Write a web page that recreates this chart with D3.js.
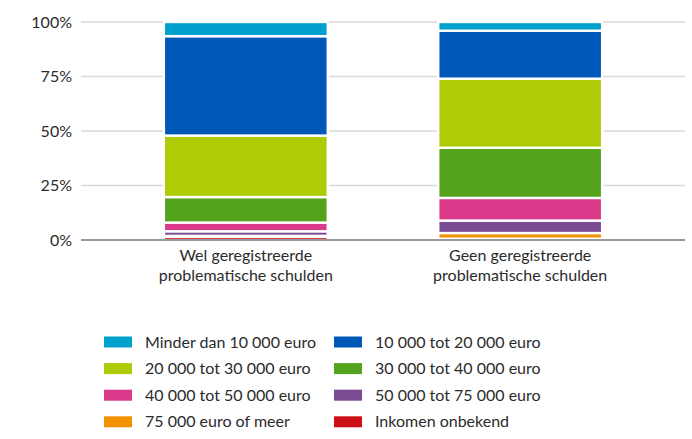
<!DOCTYPE html>
<html>
<head>
<meta charset="utf-8">
<script src="https://cdn.jsdelivr.net/npm/d3@7"></script>
<style>
  html, body { margin: 0; padding: 0; background: #fff; }
  svg { display: block; font-family: Lato, "Open Sans", sans-serif; }
</style>
</head>
<body>
<svg id="chart" width="692" height="439"></svg>
<script>
// Income groups, listed top of stack first (legend order)
const groups = [
  "Minder dan 10 000 euro",
  "10 000 tot 20 000 euro",
  "20 000 tot 30 000 euro",
  "30 000 tot 40 000 euro",
  "40 000 tot 50 000 euro",
  "50 000 tot 75 000 euro",
  "75 000 euro of meer",
  "Inkomen onbekend"
];
const colors = ["#00a1cd", "#0058b8", "#afcb05", "#53a31d", "#db3a8b", "#7d4b93", "#f39200", "#cc1018"];

// Two population groups on the x axis
const categories = [
  ["Wel geregistreerde", "problematische schulden"],
  ["Geen geregistreerde", "problematische schulden"]
];

// Share (%) per income group, same order as `groups`
const welValues  = [6.5, 45.6, 28.2, 11.7, 4.0, 2.1, 0.4, 1.5];
const geenValues = [4.0, 22.0, 31.7, 23.0, 10.4, 5.7, 2.6, 0.6];

const tickValues = [0, 25, 50, 75, 100];

const seriesByCat = [welValues, geenValues];
const catKeys = categories.map(c => c.join(" "));

const svg = d3.select("#chart");
const textColor = "#2b2b2b";
const fontSize = 16;

const x = d3.scaleBand()
  .domain(catKeys)
  .range([81, 685])
  .paddingInner(0.4026)
  .paddingOuter(0.302);

const y = d3.scaleLinear().domain([0, 100]).range([240, 22]);

// Gridlines
svg.append("g")
  .selectAll("line")
  .data(tickValues.filter(d => d > 0))
  .join("line")
  .attr("x1", 81).attr("x2", 685)
  .attr("y1", d => y(d)).attr("y2", d => y(d))
  .attr("stroke", "#d9d9d9")
  .attr("stroke-width", 1.5);

// Y axis labels
const yAxis = d3.axisLeft(y)
  .tickValues(tickValues)
  .tickFormat(d => d + "%")
  .tickSize(0)
  .tickPadding(0);
const yg = svg.append("g").attr("transform", "translate(72,0)").call(yAxis);
yg.select(".domain").remove();
yg.selectAll("text")
  .attr("font-size", fontSize)
  .attr("fill", textColor)
  .attr("font-family", "Lato, sans-serif");

// Stacked bars: stack from the bottom (last group) upward
const stackKeys = groups.slice().reverse();
const rows = catKeys.map((k, i) => {
  const r = { cat: k };
  groups.forEach((g, j) => { r[g] = seriesByCat[i][j]; });
  return r;
});
const stacked = d3.stack().keys(stackKeys)(rows);
const colorOf = d3.scaleOrdinal().domain(groups).range(colors);

svg.append("g")
  .selectAll("g")
  .data(stacked)
  .join("g")
  .attr("fill", d => colorOf(d.key))
  .selectAll("rect")
  .data(d => d)
  .join("rect")
  .attr("x", d => x(d.data.cat))
  .attr("width", x.bandwidth())
  .attr("y", d => y(d[1]))
  .attr("height", d => y(d[0]) - y(d[1]))
  .attr("stroke", "#fff")
  .attr("stroke-width", 2.4);

// Baseline
svg.append("line")
  .attr("x1", 81).attr("x2", 685)
  .attr("y1", y(0)).attr("y2", y(0))
  .attr("stroke", "#9a9a9a")
  .attr("stroke-width", 2);

// Category labels (two lines each)
const catLabels = svg.append("g")
  .selectAll("text")
  .data(categories)
  .join("text")
  .attr("x", (d, i) => x(catKeys[i]) + x.bandwidth() / 2)
  .attr("text-anchor", "middle")
  .attr("font-size", fontSize)
  .attr("fill", textColor);
catLabels.selectAll("tspan")
  .data(d => d)
  .join("tspan")
  .attr("x", function () { return d3.select(this.parentNode).attr("x"); })
  .attr("y", (d, i) => 261 + i * 19.5)
  .text(d => d);

// Legend, two columns
const legend = svg.append("g")
  .selectAll("g")
  .data(groups)
  .join("g")
  .attr("transform", (d, i) => {
    const col = i % 2, row = Math.floor(i / 2);
    return `translate(${col === 0 ? 104 : 334},${342 + row * 26.6})`;
  });
legend.append("rect")
  .attr("x", 0).attr("y", -5.5)
  .attr("width", 28).attr("height", 11)
  .attr("fill", d => colorOf(d));
legend.append("text")
  .attr("x", 41)
  .attr("dy", "0.35em")
  .attr("font-size", fontSize)
  .attr("fill", textColor)
  .text(d => d);
</script>
</body>
</html>
